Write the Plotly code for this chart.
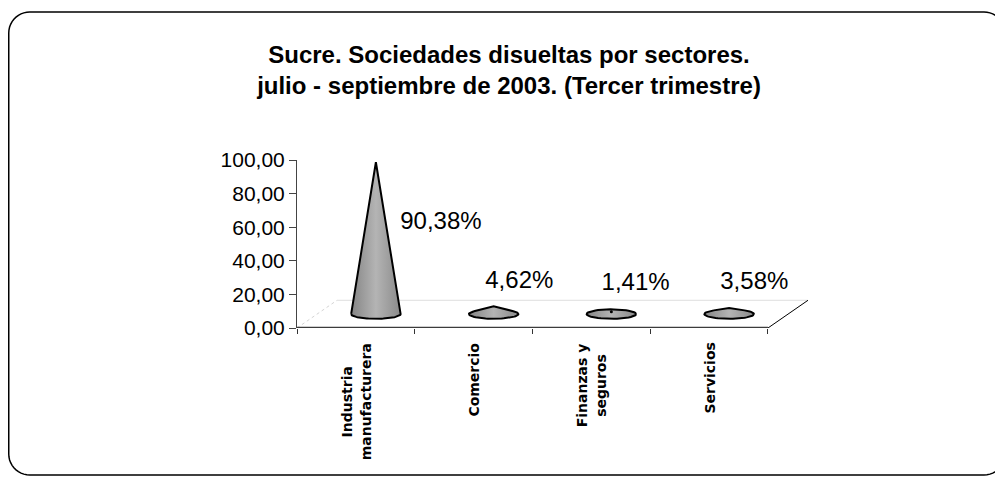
import numpy as np
import plotly.graph_objects as go

# ---------------- data ----------------
categories = ["Industria<br>manufacturera", "Comercio", "Finanzas y<br>seguros", "Servicios"]
values = [90.38, 4.62, 1.41, 3.58]
value_labels = ["90,38%", "4,62%", "1,41%", "3,58%"]
y_ticks = [0, 20, 40, 60, 80, 100]
y_tick_labels = ["0,00", "20,00", "40,00", "60,00", "80,00", "100,00"]
title_text = "Sucre. Sociedades disueltas por sectores.<br>julio - septiembre de 2003. (Tercer trimestre)"

# ---------------- geometry / style ----------------
OFF = 8                                       # page body margin of the html
W, H = 1003 - OFF, 477 - OFF
PL, PR, PT, PB = 297 - OFF, 808 - OFF, 160 - OFF, 328 - OFF   # plot area (px)
XR = [-0.5, 3.84]
YR = [0, 100]
DEPTH_X, DEPTH_Y = 0.34, 16.5                 # 3D floor depth (data units)
CONE_DX, CONE_YB = 0.17, 8.3                  # cone base centre offset
CONE_A, CONE_B = 0.21, 2.8                    # base ellipse half axes
FONT = "Arial, Liberation Sans, sans-serif"

fig = go.Figure()


def cone_outline(cx, yb, h, a, b, n=48):
    Hn = h / b
    if Hn > 1:
        t0 = np.arcsin(1.0 / Hn)
        th = np.linspace(np.pi - t0, 2 * np.pi + t0, n)
        xs = list(cx + a * np.cos(th)) + [cx]
        ys = list(yb + b * np.sin(th)) + [yb + h]
    else:
        th = np.linspace(0, 2 * np.pi, n)
        xs = list(cx + a * np.cos(th))
        ys = list(yb + b * np.sin(th))
    xs.append(xs[0])
    ys.append(ys[0])
    return xs, ys


for i, v in enumerate(values):
    cx = i + CONE_DX
    xs, ys = cone_outline(cx, CONE_YB, v, CONE_A, CONE_B)
    fig.add_trace(go.Scatter(
        x=xs, y=ys, mode="lines", fill="toself",
        line=dict(color="#000000", width=2),
        fillcolor="#9a9a9a",
        fillgradient=dict(type="horizontal",
                          colorscale=[[0, "#858585"], [0.5, "#b4b4b4"], [1, "#8a8a8a"]]),
        hoverinfo="skip",
    ))
    if v <= CONE_B:
        fig.add_trace(go.Scatter(x=[cx], y=[CONE_YB + v], mode="markers",
                                 marker=dict(color="#000", size=3), hoverinfo="skip"))

# value labels
lx = [i + 0.37 + 0.0039 * v for i, v in enumerate(values)]
ly = [25.5 + 0.41 * v for v in values]
fig.add_trace(go.Scatter(
    x=lx, y=ly, mode="text", text=value_labels,
    textposition="middle center",
    textfont=dict(family=FONT, size=24, color="#000"),
    hoverinfo="skip",
))

# floor / axis frame lines
shapes = [
    dict(type="line", xref="x", yref="y", x0=-0.5 + DEPTH_X, y0=DEPTH_Y, x1=3.5 + DEPTH_X, y1=DEPTH_Y,
         line=dict(color="#dedede", width=1), layer="below"),
    dict(type="line", xref="x", yref="y", x0=-0.5, y0=0, x1=-0.5 + DEPTH_X, y1=DEPTH_Y,
         line=dict(color="#d4d4d4", width=1, dash="dot"), layer="below"),
    dict(type="line", xref="x", yref="y", x0=3.5, y0=0, x1=3.5 + DEPTH_X, y1=DEPTH_Y,
         line=dict(color="#000000", width=1)),
    dict(type="line", xref="x", yref="y", x0=-0.5, y0=0, x1=3.5, y1=0,
         line=dict(color="#3c3c3c", width=2.5)),
]

# rounded border (pixel -> paper)
def px2paper(px, py):
    return (px - PL) / (PR - PL), (PB - py) / (PB - PT)

bx0, by0, bx1, by1, r = 8.75 - OFF, 12 - OFF, 1005 - OFF, 475 - OFF, 21
pts = []
for (ccx, ccy, a0) in [(bx1 - r, by0 + r, -90), (bx1 - r, by1 - r, 0), (bx0 + r, by1 - r, 90), (bx0 + r, by0 + r, 180)]:
    for t in np.linspace(a0, a0 + 90, 12):
        pts.append((ccx + r * np.cos(np.radians(t)), ccy + r * np.sin(np.radians(t))))
path = ""
for k, (px, py) in enumerate(pts):
    X, Y = px2paper(px, py)
    path += ("M" if k == 0 else "L") + f"{X:.5f},{Y:.5f} "
path += "Z"
shapes.append(dict(type="path", xref="paper", yref="paper", path=path,
                   line=dict(color="#000", width=1.5)))

# category labels
annotations = []
for i, c in enumerate(categories):
    annotations.append(dict(
        x=i, xref="x", y=0, yref="paper", yanchor="top", xanchor="center",
        yshift=-13, text=f"<b>{c}</b>", showarrow=False, textangle=-90, align="center",
        font=dict(family="DejaVu Sans", size=14, color="#000"),
    ))

fig.update_layout(
    width=W, height=H,
    margin=dict(l=PL, r=W - PR, t=PT, b=H - PB, pad=0),
    paper_bgcolor="white", plot_bgcolor="white",
    showlegend=False,
    title=dict(text=f"<b>{title_text}</b>", x=(509 - OFF) / W, xanchor="center", xref="container",
               y=1 - (63 - OFF) / H, yanchor="middle", yref="container",
               font=dict(family=FONT, size=24, color="#000")),
    xaxis=dict(range=XR, showgrid=False, zeroline=False, showline=False,
               tickvals=[-0.5, 0.5, 1.5, 2.5, 3.5], ticks="outside", ticklen=5,
               tickcolor="#333", showticklabels=False, fixedrange=True),
    yaxis=dict(range=YR, showgrid=False, zeroline=False, showline=True,
               linecolor="#444", linewidth=1, tickvals=y_ticks, ticktext=y_tick_labels,
               ticks="outside", ticklen=7, tickcolor="#444",
               tickfont=dict(family=FONT, size=21, color="#000"), fixedrange=True),
    shapes=shapes, annotations=annotations,
)

fig.write_html("out.html")
